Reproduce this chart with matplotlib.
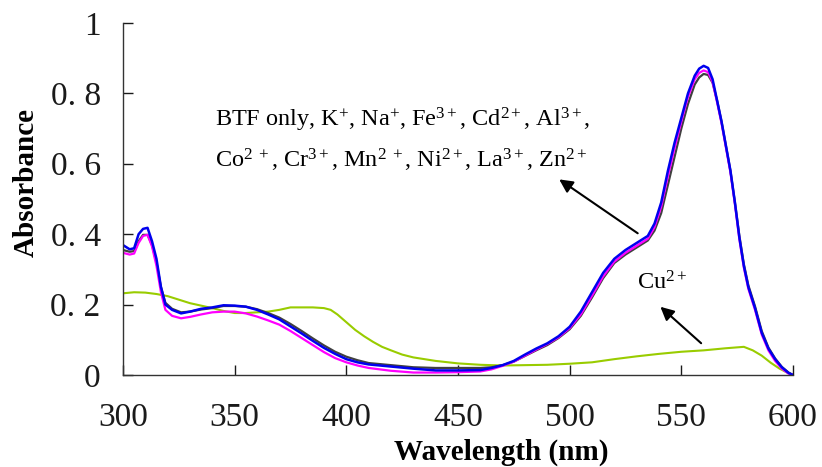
import matplotlib
matplotlib.use("Agg")
import matplotlib.pyplot as plt

plt.rcParams['font.family'] = ['Liberation Serif', 'DejaVu Serif']
plt.rcParams['mathtext.fontset'] = 'custom'
plt.rcParams['mathtext.rm'] = 'Liberation Serif'
plt.rcParams['mathtext.it'] = 'Liberation Serif:italic'
plt.rcParams['mathtext.bf'] = 'Liberation Serif:bold'

# Blue curve
wl_blue = [300, 303, 305, 307, 309, 311, 313, 315, 317, 319, 322, 326, 330, 335, 340, 345, 350, 355,
           360, 365, 370, 375, 380, 385, 390, 395, 400, 405, 410, 420, 430, 440, 450, 460, 465, 470,
           475, 480, 485, 490, 495, 500, 505, 510, 515, 520, 525, 530, 535, 538, 541, 544, 547, 550,
           553, 556, 558, 560, 562, 564, 566, 568, 570, 572, 574, 576, 578, 580, 583, 586, 589, 592,
           595, 598, 600]
abs_blue = [0.369, 0.357, 0.360, 0.400, 0.415, 0.418, 0.380, 0.330, 0.250, 0.200, 0.185, 0.175, 0.180,
            0.188, 0.192, 0.198, 0.197, 0.194, 0.185, 0.172, 0.158, 0.138, 0.118, 0.097, 0.077, 0.060,
            0.045, 0.036, 0.030, 0.024, 0.018, 0.013, 0.013, 0.014, 0.020, 0.028, 0.040, 0.058, 0.075,
            0.090, 0.110, 0.137, 0.180, 0.235, 0.290, 0.330, 0.355, 0.375, 0.395, 0.430, 0.490, 0.580,
            0.660, 0.730, 0.800, 0.850, 0.870, 0.878, 0.872, 0.840, 0.780, 0.720, 0.650, 0.580, 0.490,
            0.390, 0.310, 0.250, 0.190, 0.120, 0.075, 0.045, 0.022, 0.006, 0.000]

# Dark grey curve
wl_grey = [300, 303, 305, 307, 309, 311, 313, 315, 317, 319, 322, 326, 330, 335, 340, 345, 350, 355,
           360, 365, 370, 375, 380, 385, 390, 395, 400, 405, 410, 420, 430, 440, 450, 460, 465, 470,
           475, 480, 485, 490, 495, 500, 505, 510, 515, 520, 525, 530, 535, 538, 541, 544, 547, 550,
           553, 556, 558, 560, 562, 564, 566, 568, 570, 572, 574, 576, 578, 580, 583, 586, 589, 592,
           595, 598, 600]
abs_grey = [0.355, 0.350, 0.352, 0.380, 0.398, 0.398, 0.370, 0.320, 0.250, 0.205, 0.188, 0.178, 0.180,
            0.186, 0.190, 0.196, 0.196, 0.194, 0.187, 0.176, 0.163, 0.145, 0.125, 0.104, 0.084, 0.066,
            0.052, 0.042, 0.034, 0.028, 0.022, 0.020, 0.020, 0.020, 0.022, 0.028, 0.038, 0.054, 0.070,
            0.085, 0.105, 0.130, 0.168, 0.220, 0.275, 0.318, 0.342, 0.362, 0.382, 0.410, 0.460, 0.540,
            0.620, 0.700, 0.770, 0.825, 0.845, 0.855, 0.852, 0.830, 0.780, 0.720, 0.650, 0.580, 0.490,
            0.395, 0.315, 0.255, 0.195, 0.125, 0.078, 0.047, 0.023, 0.007, 0.000]

# Magenta curve
wl_mag = [300, 303, 305, 307, 309, 311, 313, 315, 317, 319, 322, 326, 330, 335, 340, 345, 350, 355,
          360, 365, 370, 375, 380, 385, 390, 395, 400, 405, 410, 420, 430, 440, 450, 460, 465, 470,
          475, 480, 485, 490, 495, 500, 505, 510, 515, 520, 525, 530, 535, 538, 541, 544, 547, 550,
          553, 556, 558, 560, 562, 564, 566, 568, 570, 572, 574, 576, 578, 580, 583, 586, 589, 592,
          595, 598, 600]
abs_mag = [0.347, 0.342, 0.345, 0.375, 0.395, 0.398, 0.365, 0.310, 0.235, 0.185, 0.168, 0.161, 0.165,
           0.172, 0.178, 0.180, 0.180, 0.175, 0.166, 0.155, 0.143, 0.125, 0.105, 0.085, 0.065, 0.048,
           0.036, 0.027, 0.020, 0.012, 0.007, 0.007, 0.008, 0.010, 0.016, 0.026, 0.038, 0.055, 0.072,
           0.088, 0.107, 0.133, 0.172, 0.225, 0.280, 0.322, 0.347, 0.367, 0.387, 0.420, 0.478, 0.565,
           0.645, 0.720, 0.790, 0.840, 0.858, 0.865, 0.860, 0.832, 0.775, 0.715, 0.645, 0.575, 0.485,
           0.385, 0.305, 0.245, 0.185, 0.115, 0.070, 0.040, 0.018, 0.004, 0.000]

# Green (Cu2+) curve
wl_cu = [300, 305, 310, 315, 320, 325, 330, 335, 340, 345, 350, 355, 360, 365, 370, 375, 380, 385,
         390, 393, 396, 400, 404, 408, 412, 416, 420, 425, 430, 440, 450, 460, 470, 480, 490, 500,
         510, 520, 530, 540, 550, 560, 570, 578, 582, 586, 590, 594, 598, 600]
abs_cu = [0.232, 0.235, 0.234, 0.230, 0.224, 0.214, 0.204, 0.197, 0.190, 0.182, 0.176, 0.176, 0.178,
          0.180, 0.185, 0.192, 0.192, 0.192, 0.190, 0.185, 0.172, 0.150, 0.128, 0.110, 0.094, 0.080,
          0.070, 0.058, 0.050, 0.040, 0.033, 0.029, 0.027, 0.028, 0.029, 0.032, 0.036, 0.045, 0.053,
          0.060, 0.066, 0.070, 0.076, 0.080, 0.070, 0.055, 0.035, 0.018, 0.005, 0.000]

x_ticks = [300, 350, 400, 450, 500, 550, 600]
x_ticklabels = ['300', '350', '400', '450', '500', '550', '600']
y_ticks = [0, 0.2, 0.4, 0.6, 0.8, 1.0]
y_ticklabels = ['0', '0. 2', '0. 4', '0. 6', '0. 8', '1']

fig = plt.figure(figsize=(8.22, 4.67), dpi=100)
ax = fig.add_axes([0.1496, 0.197, 0.8151, 0.754])

ax.plot(wl_cu, abs_cu, color='#99cc00', lw=1.5)
ax.plot(wl_grey, abs_grey, color='#404040', lw=1.6)
ax.plot(wl_mag, abs_mag, color='#ff00ff', lw=1.6)
ax.plot(wl_blue, abs_blue, color='#0000ee', lw=1.8)

ax.set_xlim(300, 600)
ax.set_ylim(0, 1)
ax.set_xticks(x_ticks)
ax.set_xticklabels(x_ticklabels)
ax.set_yticks(y_ticks)
ax.set_yticklabels(y_ticklabels)
ax.tick_params(axis='both', direction='in', length=7, width=1, labelsize=24, colors='#1a1a1a')
ax.tick_params(axis='y', pad=16)
ax.tick_params(axis='x', pad=20)
for s in ['top', 'right']:
    ax.spines[s].set_visible(False)
for s in ['left', 'bottom']:
    ax.spines[s].set_color('#333333')
    ax.spines[s].set_linewidth(1)

ax.set_xlabel('Wavelength (nm)', fontsize=21, fontweight='bold', va='center')
ax.xaxis.set_label_coords(0.564, -0.219)
ax.set_ylabel('Absorbance', fontsize=21, fontweight='bold', va='center')
ax.yaxis.set_label_coords(-0.145, 0.547)

ax.text(341.2, 0.724, 'BTF only, K$^{+}$, Na$^{+}$, Fe$^{3+}$, Cd$^{2+}$, Al$^{3+}$,',
        fontsize=17.5, va='center', ha='left')
ax.text(341.2, 0.61, 'Co$^{2\\ +}$, Cr$^{3+}$, Mn$^{2\\ +}$, Ni$^{2+}$, La$^{3+}$, Zn$^{2+}$',
        fontsize=17.5, va='center', ha='left')
ax.text(530.1, 0.261, 'Cu$^{2+}$', fontsize=17.5, va='center', ha='left')

ax.annotate('', xy=(494.3, 0.56), xytext=(531.5, 0.398),
            arrowprops=dict(arrowstyle='-|>', color='black', lw=1.5, mutation_scale=20))
ax.annotate('', xy=(539.7, 0.199), xytext=(559.8, 0.085),
            arrowprops=dict(arrowstyle='-|>', color='black', lw=1.5, mutation_scale=20))

fig.savefig('out.png', dpi=100)
